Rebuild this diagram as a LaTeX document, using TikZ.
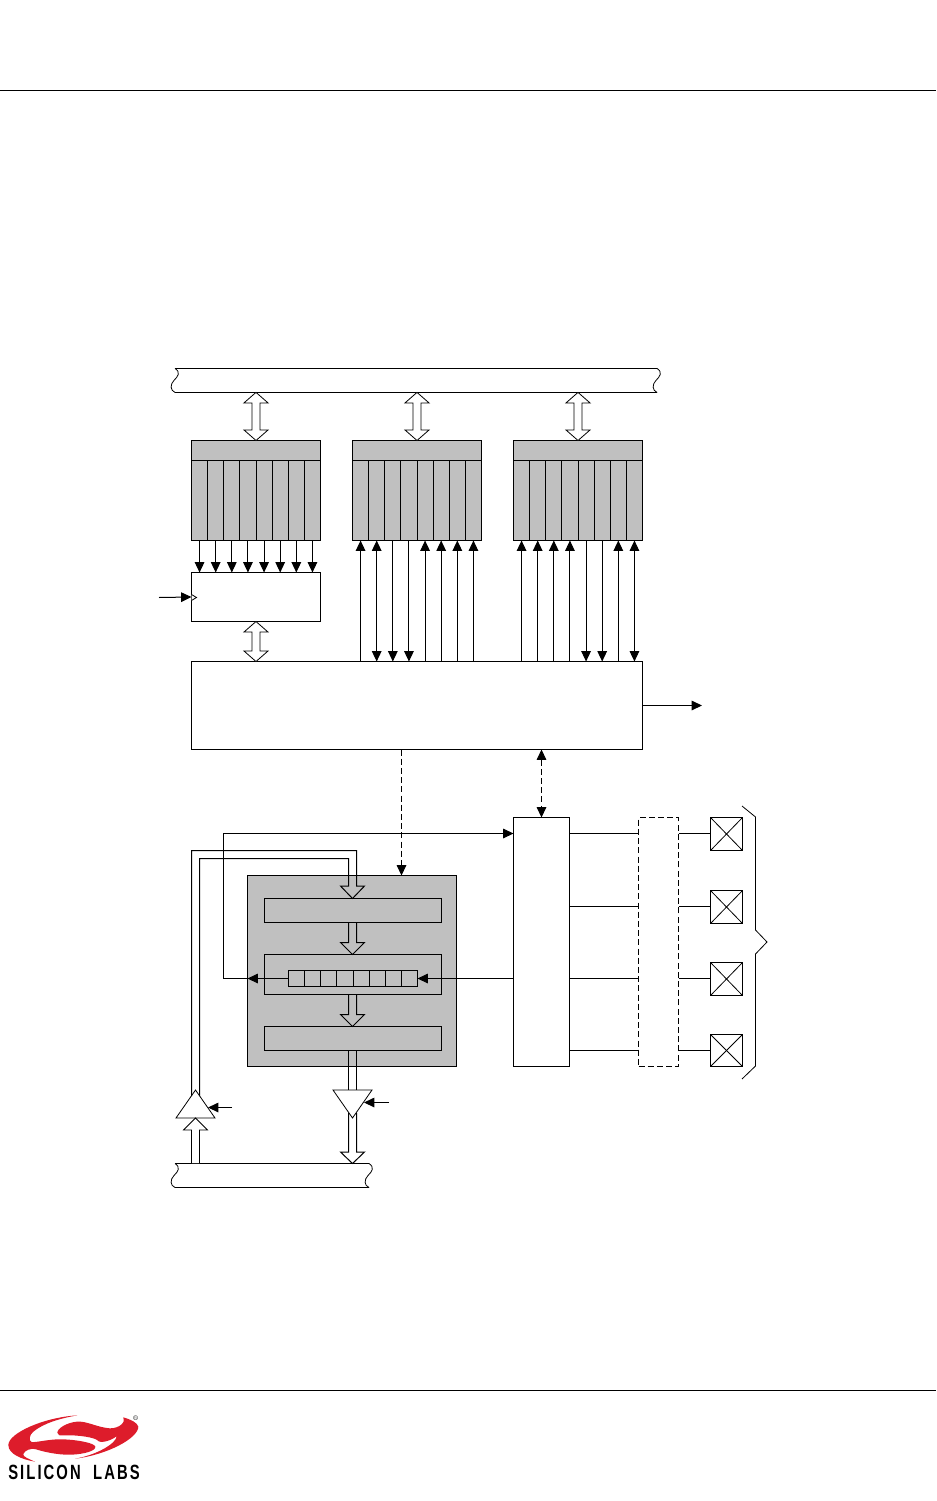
\documentclass[tikz,border=0pt]{standalone}
\usepackage{fontspec}
\usepackage{graphicx}
\newfontfamily\logofont[LetterSpace=14]{Liberation Sans}
\usetikzlibrary{arrows.meta,calc}
\definecolor{blockgray}{HTML}{C0C0C0}
\definecolor{logored}{HTML}{DD1C2B}
\tikzset{
  ln/.style={line width=.75pt,draw=black},
  thin ln/.style={line width=.6pt,draw=black},
  ar/.style={ln,-{Triangle[length=7.8pt,width=7.2pt]}},
  bar/.style={ln,{Triangle[length=7.8pt,width=7.2pt]}-{Triangle[length=7.8pt,width=7.2pt]}},
  dar/.style={ar,dash pattern=on 4.5pt off 2.4pt},
  dbar/.style={bar,dash pattern=on 4.5pt off 2.4pt},
  boxst/.style={ln,fill=white,inner sep=0pt,outer sep=0pt},
  graybox/.style={boxst,fill=blockgray},
  ghost/.style={inner sep=0pt,outer sep=0pt},
  dashbox/.style={ln,dash pattern=on 4.5pt off 2.4pt,inner sep=0pt,outer sep=0pt},
  busln/.style={thin ln,fill=white},
  busopen/.style={ln},
}
\newcommand\bx[6]{\pgfmathsetmacro\cxv{(#3+#5)/2}\pgfmathsetmacro\cyv{(#4+#6)/2}%
  \node[#1,minimum width={(#5-#3)*.75pt},minimum height={(#6-#4)*.75pt}] (#2) at (\cxv,\cyv) {};}
\newcommand\dblarrow[2]{\draw[busln] (#1) -- ($(#1)+(12,10.5)$) -- ($(#1)+(4,10.5)$) -- ($(#2)+(4,-10.5)$) -- ($(#2)+(12,-10.5)$) -- (#2) -- ($(#2)+(-12,-10.5)$) -- ($(#2)+(-4,-10.5)$) -- ($(#1)+(-4,10.5)$) -- ($(#1)+(-12,10.5)$) -- cycle;}
\newcommand\wave[2]{.. controls ($(#1,#2)+(6,4)$) and ($(#1,#2)+(3,8)$) .. ($(#1,#2)+(-1,12)$) .. controls ($(#1,#2)+(-5,16)$) and ($(#1,#2)+(-5,22)$) .. ($(#1,#2)+(0,24)$)}
\begin{document}
\begin{tikzpicture}[x=.75pt,y=-.75pt]
\useasboundingbox (0,0) rectangle (936,1501);
\draw[ln] (0,90.6) -- (936,90.6);
\draw[ln] (0,1390.4) -- (936,1390.4);

% top bus
\bx{ghost}{tb}{175}{368.4}{657}{392.4}
\fill[white] (175,368.4) \wave{175}{368.4} -- (657,392.4) -- (657,368.4) -- cycle;
\draw[thin ln] (175,368.4) \wave{175}{368.4} -- (657,392.4);
\draw[ln] (175,368.4) -- (657,368.4);
\draw[thin ln] (657,368.4) \wave{657}{368.4};

% ports
\foreach \p/\xl in {0/191.5,1/352.5,2/513.5}{
  \pgfmathsetmacro\xr{\xl+129}
  \bx{graybox}{h\p}{\xl}{440.5}{\xr}{460.5}
  \foreach \c in {1,...,8}{
    \pgfmathsetmacro\ca{\xl+(\c-1)*16.125}
    \pgfmathsetmacro\cb{\xl+\c*16.125}
    \bx{graybox}{p\p c\c}{\ca}{460.5}{\cb}{540.5}
  }
}
\foreach \p in {0,1,2}{
  \coordinate (ta\p) at (tb.south -| h\p.north);
  \dblarrow{ta\p}{h\p.north}
}

% latch and main
\bx{boxst}{lat}{191.5}{572.5}{320.5}{621.5}
\bx{boxst}{main}{191.5}{661.5}{642.5}{749.5}
\foreach \c in {1,...,8}{
  \draw[ar] (p0c\c.south) -- (p0c\c.south |- lat.north);
}
\dblarrow{lat.south}{main.north -| lat.south}

% clock
\coordinate (clk) at (159,597.5);
\draw[ar] (clk) -- (lat.west);
\draw[thin ln,fill=white] (191.5,594.5) -- (196.5,597.5) -- (191.5,600.5);

% port 1 arrows
\foreach \c in {1,5,6,7,8}{\draw[ar] (main.north -| p1c\c.south) -- (p1c\c.south);}
\draw[bar] (main.north -| p1c2.south) -- (p1c2.south);
\foreach \c in {3,4}{\draw[ar] (p1c\c.south) -- (main.north -| p1c\c.south);}
% port 2 arrows
\foreach \c in {1,2,3,4,7}{\draw[ar] (main.north -| p2c\c.south) -- (p2c\c.south);}
\draw[bar] (main.north -| p2c8.south) -- (p2c8.south);
\foreach \c in {5,6}{\draw[ar] (p2c\c.south) -- (main.north -| p2c\c.south);}

% interrupt output
\coordinate (irq) at (702,705.5);
\draw[ar] (main.east |- irq) -- (irq);

% UART block
\bx{graybox}{blk}{247.5}{875.5}{456.5}{1066.5}
\bx{graybox}{r1}{264.5}{898.5}{441.5}{922.5}
\bx{graybox}{r2}{264.5}{954.5}{441.5}{994.5}
\bx{graybox}{r3}{264.5}{1026.5}{441.5}{1050.5}
\foreach \c in {1,...,8}{
  \pgfmathsetmacro\ca{288.5+(\c-1)*16.125}
  \pgfmathsetmacro\cb{288.5+\c*16.125}
  \bx{graybox}{s\c}{\ca}{970.5}{\cb}{986.5}
}
% internal bus arrows
\foreach \a/\b in {r1/r2,r2/r3}{
  \coordinate (from) at (\a.south -| 352.5,0);
  \coordinate (to) at (\b.north -| 352.5,0);
  \draw[busopen] ($(from)+(-4,0)$) -- ($(to)+(-4,-12)$) -- ($(to)+(-12,-12)$) -- (to) -- ($(to)+(12,-12)$) -- ($(to)+(4,-12)$) -- ($(from)+(4,0)$);
}

% right side
\bx{boxst}{io}{513.5}{817.5}{569.5}{1066.5}
\bx{dashbox}{mux}{638.5}{817.5}{678.5}{1066.5}
\bx{boxst}{pad1}{710.5}{817.5}{742.5}{850.5}
\bx{boxst}{pad2}{710.5}{890.5}{742.5}{923.5}
\bx{boxst}{pad3}{710.5}{962.5}{742.5}{995.5}
\bx{boxst}{pad4}{710.5}{1034.5}{742.5}{1066.5}
\foreach \i/\y in {1/833.5,2/906.5,3/978.5,4/1050.5}{
  \draw[thin ln] (pad\i.north west) -- (pad\i.south east);
  \draw[thin ln] (pad\i.north east) -- (pad\i.south west);
  \coordinate (y\i) at (0,\y);
  \draw[ln] (io.east |- y\i) -- (mux.west |- y\i);
  \draw[ln] (mux.east |- y\i) -- (pad\i.west |- y\i);
}
\draw[thin ln] (742,806) -- (755.5,817) -- (755.5,930) -- (767,942) -- (755.5,954) -- (755.5,1066) -- (742,1079);

% dashed links
\draw[dar] (main.south -| 401.5,0) -- (blk.north -| 401.5,0);
\draw[dbar] (main.south -| io.north) -- (io.north);

% shift register links
\draw[ar] (io.west |- s8.east) -- (s8.east);
\coordinate (turn) at (223.5,978.5);
\draw[ar] (s1.west) -- (blk.west |- s1.west);
\draw[ln,-{Triangle[length=7.8pt,width=7.2pt]}] (blk.west |- s1.west) -- (turn) -- (223.5,833.5) -- (io.west |- y1);

% lower bus
\bx{ghost}{bb}{175}{1163.5}{369}{1187.5}
\fill[white] (175,1163.5) \wave{175}{1163.5} -- (369,1187.5) -- (369,1163.5) -- cycle;
\draw[thin ln] (175,1163.5) \wave{175}{1163.5} -- (369,1187.5);
\draw[ln] (175,1163.5) -- (369,1163.5);
\draw[thin ln] (369,1163.5) \wave{369}{1163.5};

% tri-state buffers
\coordinate (ua) at (195.5,1090);
\coordinate (da) at (352.5,1118);
\draw[thin ln,fill=white] (ua) -- (176,1118) -- (215,1118) -- cycle;
\draw[thin ln,fill=white] (da) -- (333,1090) -- (372,1090) -- cycle;
\coordinate (uc) at (232,1107.5);
\coordinate (dc) at (389,1102.5);
\draw[ar] (uc) -- (208,1107.5);
\draw[ar] (dc) -- (364,1102.5);

% receive path
\draw[busopen] (191.5,1096) -- (191.5,850.5) -- (356.5,850.5) -- (356.5,886) -- (364.5,886) -- (r1.north -| 352.5,0) -- (340.5,886) -- (348.5,886) -- (348.5,858.5) -- (199.5,858.5) -- (199.5,1096);
% transmit path out
\draw[ln] (348.5,1050) -- (348.5,1090);
\draw[ln] (356.5,1050) -- (356.5,1090);
\draw[busopen] (348.5,1113) -- (348.5,1152) -- (340.5,1152) -- (bb.north -| 352.5,0) -- (364.5,1152) -- (356.5,1152) -- (356.5,1113);
% from lower bus to buffer
\draw[busln] (191.5,1163) -- (191.5,1130) -- (183.5,1130) -- (195.5,1118) -- (207.5,1130) -- (199.5,1130) -- (199.5,1163);

% logo
\begin{scope}[shift={(0,1380)},x=.25pt,y=-.25pt]
\fill[logored] (232,106) .. controls (130,112) and (25,160) .. (25,195)
  .. controls (25,222) and (65,238) .. (105,245)
  .. controls (85,236) and (68,230) .. (70,222)
  .. controls (75,210) and (92,205) .. (105,207)
  .. controls (120,212) and (170,226) .. (215,224)
  .. controls (255,222) and (288,212) .. (286,200)
  .. controls (284,190) and (240,180) .. (190,178)
  .. controls (150,176) and (110,188) .. (95,186)
  .. controls (85,182) and (88,165) .. (100,155)
  .. controls (130,130) and (180,115) .. (232,106) -- cycle;
\fill[logored] (225,236) .. controls (320,225) and (415,175) .. (415,140)
  .. controls (412,128) and (392,118) .. (370,112)
  .. controls (378,125) and (360,145) .. (330,145)
  .. controls (290,142) and (260,122) .. (230,125)
  .. controls (200,128) and (172,145) .. (172,158)
  .. controls (172,166) and (180,167) .. (190,166)
  .. controls (230,164) and (290,172) .. (296,184)
  .. controls (310,190) and (340,178) .. (350,168)
  .. controls (350,190) and (290,225) .. (225,236) -- cycle;
\node[ghost,font=\fontsize{5pt}{5pt}\selectfont] (reg) at (407,115) {®};
\end{scope}
\node[ghost] (brand) at (74,1472) {\resizebox{98.6pt}{10.8pt}{\logofont\bfseries SILICON\ \ LABS}};
\end{tikzpicture}
\end{document}
